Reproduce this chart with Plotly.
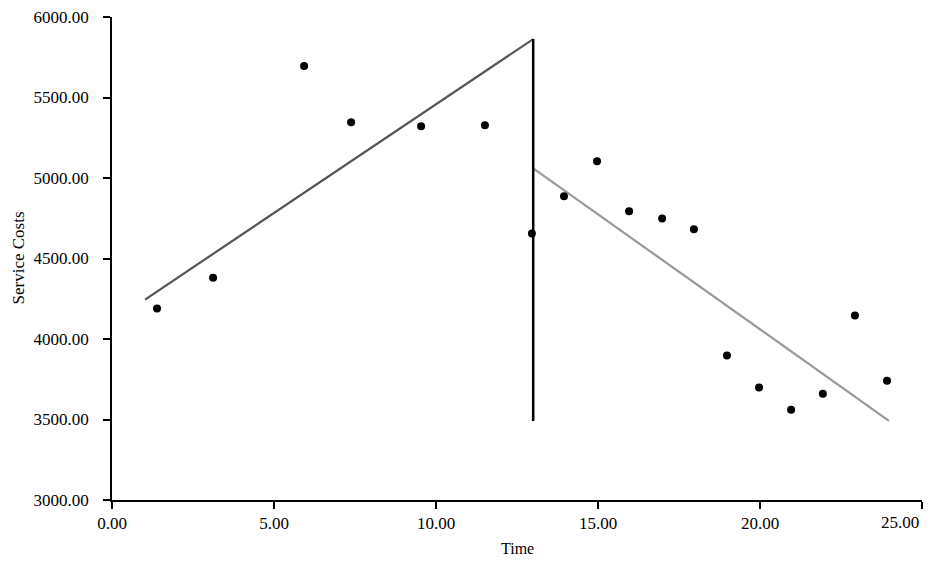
import plotly.graph_objects as go

time = [1.39, 3.12, 5.93, 7.38, 9.54, 11.51, 12.96, 13.95, 14.97, 15.96,
        16.98, 17.96, 18.98, 19.97, 20.96, 21.94, 22.93, 23.92]
costs = [4190, 4380, 5695, 5347, 5322, 5328, 4656, 4886, 5104, 4793,
         4749, 4681, 3897, 3698, 3561, 3660, 4146, 3741]

pre_x = [1.02, 13.0]
pre_y = [4245, 5863]
post_x = [13.0, 23.98]
post_y = [5060, 3492]
break_x = [13.0, 13.0]
break_y = [5863, 3490]

xticks = [0, 5, 10, 15, 20, 25]
yticks = [3000, 3500, 4000, 4500, 5000, 5500, 6000]

fig = go.Figure()
fig.add_trace(go.Scatter(x=pre_x, y=pre_y, mode="lines",
                         line=dict(color="#555555", width=2.2), hoverinfo="skip"))
fig.add_trace(go.Scatter(x=post_x, y=post_y, mode="lines",
                         line=dict(color="#999999", width=2.2), hoverinfo="skip"))
fig.add_trace(go.Scatter(x=break_x, y=break_y, mode="lines",
                         line=dict(color="#000000", width=2.5), hoverinfo="skip"))
fig.add_trace(go.Scatter(x=time, y=costs, mode="markers",
                         marker=dict(color="#000000", size=8)))

font_family = "Liberation Serif, Times New Roman, serif"
# the last x tick label is shifted left to stay inside the chart (as in the original)
xtext = [f"{v:.2f}" for v in xticks[:-1]] + [""]
fig.update_layout(
    width=935, height=566,
    margin=dict(l=112, r=13, t=17, b=66, pad=0),
    paper_bgcolor="white", plot_bgcolor="white",
    showlegend=False,
    font=dict(family=font_family, size=17, color="#000000"),
    xaxis=dict(range=[0, 25], tickvals=xticks, ticktext=xtext,
               showgrid=False, zeroline=False, showline=True,
               linecolor="#000000", linewidth=1.5, automargin=False,
               ticks="outside", ticklen=7, tickcolor="#000000", tickwidth=1.5),
    yaxis=dict(range=[3000, 6000], tickvals=yticks,
               ticktext=[f"{v:.2f}" for v in yticks],
               showgrid=False, zeroline=False, showline=True,
               linecolor="#000000", linewidth=1.5, automargin=False,
               ticks="outside", ticklen=7, tickcolor="#000000", tickwidth=1.5,
               ticklabelstandoff=11),
    annotations=[
        dict(text=f"{xticks[-1]:.2f}", xref="x", yref="paper", x=xticks[-1], y=0,
             xshift=-1, yshift=-22, showarrow=False, xanchor="right",
             yanchor="middle", font=dict(size=17)),
        dict(text="Time", xref="paper", yref="paper", x=0.5, y=0,
             yshift=-48, showarrow=False, xanchor="center", yanchor="middle",
             font=dict(size=16)),
        dict(text="Service Costs", xref="paper", yref="paper", x=0, y=0.5,
             xshift=-94, textangle=-90, showarrow=False,
             xanchor="center", yanchor="middle", font=dict(size=17)),
    ],
)

fig.write_html("out.html", config={"displayModeBar": False},
               post_script="document.body.style.margin='0';document.body.style.overflow='hidden';")
